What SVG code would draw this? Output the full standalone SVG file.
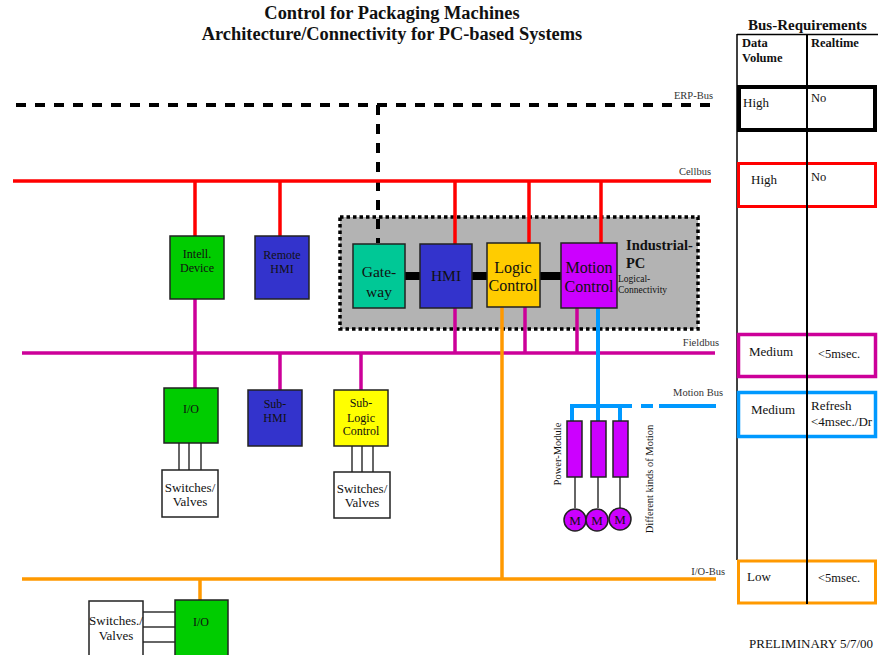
<svg xmlns="http://www.w3.org/2000/svg" width="878" height="655" viewBox="0 0 878 655">
  <style>
    .t { font-family: "Liberation Serif", "Times New Roman", serif; fill: #111; }
    .title { font-weight: bold; font-size: 18.4px; text-anchor: middle; }
    .bus { font-size: 10.5px; text-anchor: end; fill: #333; }
    .c { text-anchor: middle; }
    .node { stroke: #222; stroke-width: 1.5; }
    .wire { stroke: #333; stroke-width: 1.5; fill: none; }
    .erp { stroke: #000; stroke-width: 4; stroke-dasharray: 10 9; fill: none; }
    .cell { stroke: #ff0000; stroke-width: 3.5; fill: none; }
    .field { stroke: #cc0099; stroke-width: 3.5; fill: none; }
    .motion { stroke: #0099ff; stroke-width: 4; fill: none; }
    .io { stroke: #ff9900; stroke-width: 3.5; fill: none; }
    .link { stroke: #000; stroke-width: 8; }
    .req { fill: #fff; }
  </style>

  <!-- Title -->
  <text class="t title" x="392" y="19">Control for Packaging Machines</text>
  <text class="t title" x="392" y="40">Architecture/Connectivity for PC-based Systems</text>

  <!-- Industrial PC enclosure -->
  <g id="industrial-pc">
    <rect x="340" y="217" width="358" height="112" fill="#b3b3b3" stroke="#000" stroke-width="3.5" stroke-dasharray="3.5 3"/>
    <text class="t" x="626" y="250" font-size="14.5" font-weight="bold">Industrial-</text>
    <text class="t" x="626" y="268" font-size="14.5" font-weight="bold">PC</text>
    <text class="t" x="618" y="282" font-size="9.5" fill="#333">Logical-</text>
    <text class="t" x="618" y="293" font-size="9.5" fill="#333">Connectivity</text>
  </g>

  <!-- Connectors -->
  <g id="connectors">
    <!-- ERP bus -->
    <line class="erp" x1="16" y1="105" x2="713" y2="105"/>
    <line class="erp" x1="378" y1="105" x2="378" y2="243"/>
    <!-- Cellbus -->
    <line class="cell" x1="13" y1="181" x2="711" y2="181"/>
    <line class="cell" x1="195" y1="181" x2="195" y2="236"/>
    <line class="cell" x1="280" y1="181" x2="280" y2="236"/>
    <line class="cell" x1="455" y1="181" x2="455" y2="244"/>
    <line class="cell" x1="529" y1="181" x2="529" y2="243"/>
    <line class="cell" x1="601" y1="181" x2="601" y2="243"/>
    <!-- Logical connectivity inside the PC -->
    <line class="link" x1="405" y1="276" x2="420" y2="276"/>
    <line class="link" x1="472" y1="276" x2="487" y2="276"/>
    <line class="link" x1="540" y1="276" x2="561" y2="276"/>
    <!-- Fieldbus -->
    <line class="field" x1="22" y1="353" x2="715" y2="353"/>
    <line class="field" x1="195" y1="299" x2="195" y2="388"/>
    <line class="field" x1="280" y1="353" x2="280" y2="390"/>
    <line class="field" x1="361" y1="353" x2="361" y2="390"/>
    <line class="field" x1="455" y1="308" x2="455" y2="353"/>
    <line class="field" x1="525" y1="307" x2="525" y2="353"/>
    <line class="field" x1="577" y1="308" x2="577" y2="353"/>
    <!-- Motion bus -->
    <line class="motion" x1="598" y1="308" x2="598" y2="421"/>
    <line class="motion" x1="572" y1="406" x2="632" y2="406"/>
    <line class="motion" x1="641" y1="406" x2="653" y2="406"/>
    <line class="motion" x1="659" y1="406" x2="716" y2="406"/>
    <line class="motion" x1="572" y1="404" x2="572" y2="421"/>
    <line class="motion" x1="620" y1="404" x2="620" y2="421"/>
    <!-- I/O bus -->
    <line class="io" x1="22" y1="579" x2="716" y2="579"/>
    <line class="io" x1="502" y1="307" x2="502" y2="579"/>
    <line class="io" x1="200" y1="579" x2="200" y2="600"/>
    <!-- Field wiring -->
    <line class="wire" x1="179" y1="443" x2="179" y2="470"/>
    <line class="wire" x1="189" y1="443" x2="189" y2="470"/>
    <line class="wire" x1="201" y1="443" x2="201" y2="470"/>
    <line class="wire" x1="352" y1="446" x2="352" y2="472"/>
    <line class="wire" x1="362" y1="446" x2="362" y2="472"/>
    <line class="wire" x1="373" y1="446" x2="373" y2="472"/>
    <line class="wire" x1="143" y1="612" x2="176" y2="612"/>
    <line class="wire" x1="143" y1="627" x2="176" y2="627"/>
    <line class="wire" x1="143" y1="642" x2="176" y2="642"/>
    <!-- Power modules to motors -->
    <line class="wire" x1="575" y1="477" x2="575" y2="508"/>
    <line class="wire" x1="598" y1="477" x2="598" y2="508"/>
    <line class="wire" x1="620" y1="477" x2="620" y2="508"/>
  </g>

  <!-- Bus labels -->
  <text class="t bus" x="713" y="99">ERP-Bus</text>
  <text class="t bus" x="711" y="175">Cellbus</text>
  <text class="t bus" x="719" y="346">Fieldbus</text>
  <text class="t bus" x="723" y="396">Motion Bus</text>
  <text class="t bus" x="725" y="575">I/O-Bus</text>

  <!-- PC function blocks -->
  <g id="gateway">
    <rect class="node" x="353" y="244" width="52" height="64" fill="#00c896"/>
    <text class="t c" x="379" y="277" font-size="15.5">Gate-</text>
    <text class="t c" x="379" y="297" font-size="15.5">way</text>
  </g>
  <g id="hmi">
    <rect class="node" x="420" y="244" width="52" height="64" fill="#3333cc"/>
    <text class="t c" x="446" y="281" font-size="15.5">HMI</text>
  </g>
  <g id="logic-control">
    <rect class="node" x="487" y="243" width="53" height="64" fill="#ffcc00"/>
    <text class="t c" x="513" y="273" font-size="16">Logic</text>
    <text class="t c" x="513" y="291" font-size="16">Control</text>
  </g>
  <g id="motion-control">
    <rect class="node" x="561" y="243" width="56" height="65" fill="#cc00ff"/>
    <text class="t c" x="589" y="273" font-size="16">Motion</text>
    <text class="t c" x="589" y="292" font-size="16">Control</text>
  </g>

  <!-- Cell level devices -->
  <g id="intell-device">
    <rect class="node" x="170" y="236" width="54" height="63" fill="#00cc00"/>
    <text class="t c" x="197" y="258" font-size="12">Intell.</text>
    <text class="t c" x="197" y="272" font-size="12">Device</text>
  </g>
  <g id="remote-hmi">
    <rect class="node" x="255" y="236" width="54" height="63" fill="#3333cc"/>
    <text class="t c" x="282" y="259" font-size="12">Remote</text>
    <text class="t c" x="282" y="273" font-size="12">HMI</text>
  </g>

  <!-- Field level devices -->
  <g id="io-field">
    <rect class="node" x="164" y="388" width="54" height="55" fill="#00cc00"/>
    <text class="t c" x="191" y="413" font-size="12">I/O</text>
  </g>
  <g id="sub-hmi">
    <rect class="node" x="248" y="390" width="54" height="56" fill="#3333cc"/>
    <text class="t c" x="275" y="408" font-size="12">Sub-</text>
    <text class="t c" x="275" y="422" font-size="12">HMI</text>
  </g>
  <g id="sub-logic-control">
    <rect class="node" x="334" y="390" width="54" height="56" fill="#ffff00"/>
    <text class="t c" x="361" y="407" font-size="12">Sub-</text>
    <text class="t c" x="361" y="422" font-size="12">Logic</text>
    <text class="t c" x="361" y="435" font-size="12">Control</text>
  </g>
  <g id="switches-valves-1">
    <rect class="node" x="162" y="470" width="56" height="47" fill="#fff"/>
    <text class="t c" x="190" y="492" font-size="13">Switches/</text>
    <text class="t c" x="190" y="506" font-size="13">Valves</text>
  </g>
  <g id="switches-valves-2">
    <rect class="node" x="334" y="472" width="56" height="46" fill="#fff"/>
    <text class="t c" x="362" y="493" font-size="13">Switches/</text>
    <text class="t c" x="362" y="507" font-size="13">Valves</text>
  </g>

  <!-- Motion drives -->
  <g id="power-modules">
    <rect class="node" x="567" y="421" width="15" height="56" fill="#cc00ff"/>
    <rect class="node" x="591" y="421" width="15" height="56" fill="#cc00ff"/>
    <rect class="node" x="613" y="421" width="15" height="56" fill="#cc00ff"/>
    <text class="t c" transform="translate(561 454) rotate(-90)" font-size="10.5">Power-Module</text>
  </g>
  <g id="motors">
    <circle class="node" cx="575" cy="520" r="11" fill="#cc00ff"/>
    <circle class="node" cx="597" cy="520" r="11" fill="#cc00ff"/>
    <circle class="node" cx="620" cy="519" r="11" fill="#cc00ff"/>
    <text class="t c" x="575" y="525" font-size="13">M</text>
    <text class="t c" x="597" y="525" font-size="13">M</text>
    <text class="t c" x="620" y="524" font-size="13">M</text>
    <text class="t c" transform="translate(653 479) rotate(-90)" font-size="10.5">Different kinds of Motion</text>
  </g>

  <!-- I/O bus devices -->
  <g id="io-bottom">
    <rect class="node" x="175" y="600" width="53" height="60" fill="#00cc00"/>
    <text class="t c" x="201" y="626" font-size="12">I/O</text>
  </g>
  <g id="switches-valves-3">
    <rect class="node" x="89" y="601" width="54" height="59" fill="#fff"/>
    <text class="t c" x="116" y="625" font-size="13">Switches./</text>
    <text class="t c" x="116" y="640" font-size="13">Valves</text>
  </g>

  <!-- Bus requirements table -->
  <g id="bus-requirements">
    <text class="t" x="748" y="30" font-size="15" font-weight="bold">Bus-Requirements</text>
    <line x1="737" y1="34.5" x2="878" y2="34.5" stroke="#000" stroke-width="1.5"/>
    <line x1="737" y1="34" x2="737" y2="560" stroke="#000" stroke-width="1.5"/>
    <rect class="req" x="739" y="87" width="136" height="43" stroke="#000" stroke-width="4"/>
    <rect class="req" x="738.5" y="163.5" width="137" height="43" stroke="#ff0000" stroke-width="3"/>
    <rect class="req" x="738.5" y="334.5" width="137" height="42" stroke="#cc0099" stroke-width="3.5"/>
    <rect class="req" x="738.5" y="392.5" width="137" height="44" stroke="#0099ff" stroke-width="3.5"/>
    <rect class="req" x="738.5" y="561" width="137" height="42" stroke="#ff9900" stroke-width="3"/>
    <line x1="807" y1="34" x2="807" y2="604" stroke="#000" stroke-width="2"/>
    <text class="t" x="742" y="47" font-size="12.5" font-weight="bold">Data</text>
    <text class="t" x="742" y="62" font-size="12.5" font-weight="bold">Volume</text>
    <text class="t" x="811" y="47" font-size="12.5" font-weight="bold">Realtime</text>
    <text class="t" x="743" y="107" font-size="13">High</text>
    <text class="t" x="811" y="102" font-size="12.5">No</text>
    <text class="t" x="751" y="184" font-size="13">High</text>
    <text class="t" x="811" y="181" font-size="12.5">No</text>
    <text class="t" x="749" y="356" font-size="13">Medium</text>
    <text class="t" x="818" y="358" font-size="12.5">&lt;5msec.</text>
    <text class="t" x="751" y="414" font-size="13">Medium</text>
    <text class="t" x="811" y="410" font-size="13">Refresh</text>
    <text class="t" x="811" y="426" font-size="13">&lt;4msec./Dr</text>
    <text class="t" x="747" y="581" font-size="13">Low</text>
    <text class="t" x="818" y="582" font-size="12.5">&lt;5msec.</text>
  </g>

  <text class="t" x="749" y="648" font-size="13">PRELIMINARY 5/7/00</text>
</svg>
